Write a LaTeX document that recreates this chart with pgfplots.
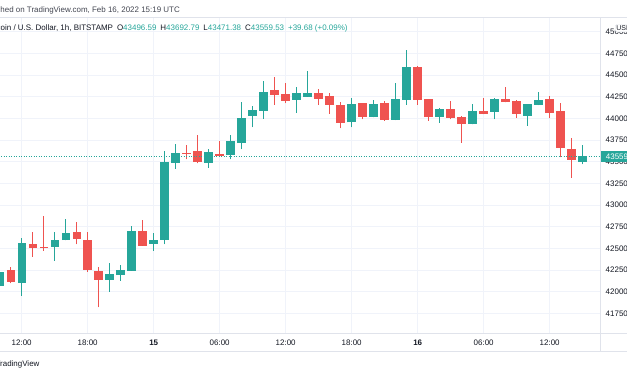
\documentclass[border=0pt]{standalone}
\usepackage{pgfplots}
\pgfplotsset{compat=1.18}
\usepackage{pgfplotstable}
\usepackage{fontspec}
\setmainfont{Liberation Sans}
\definecolor{upc}{HTML}{26A69A}
\definecolor{downc}{HTML}{EF5350}
\definecolor{gridc}{HTML}{F0F3FA}
\definecolor{borderc}{HTML}{E0E3EB}
\definecolor{textc}{HTML}{131722}
\definecolor{greytext}{HTML}{434651}

\pgfplotstableread{
t o h l c
-2 42065 42260 42040 42230
-1 42250 42288 42097 42115
0 42103 42616 41950 42558
1 42550 42692 42403 42507
2 42520 42873 42473 42505
3 42515 42685 42357 42596
4 42593 42839 42590 42677
5 42685 42804 42547 42608
6 42593 42685 42230 42250
7 42235 42288 41820 42135
8 42135 42334 42000 42204
9 42189 42304 42127 42250
10 42242 42761 42240 42700
11 42700 42827 42530 42530
12 42554 42681 42470 42596
13 42596 43623 42547 43493
14 43488 43704 43419 43604
15 43604 43693 43527 43590
16 43623 43808 43481 43493
17 43488 43643 43431 43608
18 43592 43739 43560 43566
19 43577 43808 43527 43735
20 43712 44192 43643 44000
21 44031 44142 43897 44093
22 44085 44428 43996 44301
23 44324 44481 44154 44273
24 44278 44405 44174 44200
25 44212 44365 44065 44289
26 44250 44550 44248 44296
27 44296 44335 44154 44227
28 44254 44289 44050 44154
29 44154 44192 43885 43950
30 43954 44231 43897 44166
31 44174 44180 43989 44019
32 44012 44212 44010 44166
33 44181 44204 43969 43981
34 43981 44412 43979 44220
35 44212 44789 44154 44589
36 44596 44600 44154 44212
37 44223 44225 43969 44012
38 44012 44123 43950 44104
39 44108 44200 43989 44008
40 44019 44021 43719 43931
41 43931 44162 43929 44088
42 44088 44231 44048 44050
43 44077 44230 43989 44227
44 44227 44365 44183 44185
45 44196 44208 44008 44050
46 44027 44168 43915 44166
47 44154 44308 44152 44212
48 44223 44262 44000 44065
49 44085 44181 43550 43661
50 43646 43770 43315 43519
51 43496.59 43692.79 43471.38 43559.53
}\candles

\pgfplotsset{
  candle/.style={forget plot, only marks, mark size=0pt,
    mark options={draw=none, fill=none},
    error bars/.cd, y dir=plus, y explicit, error mark=none,
    error bar style={#1}},
}

\begin{document}
\begin{tikzpicture}[x=1bp,y=1bp]
\useasboundingbox (0,0) rectangle (627,376);
\begin{axis}[
  at={(0bp,42.7bp)}, anchor=south west,
  width=600.7bp, height=316bp, scale only axis,
  xmin=-1.973, xmax=52.64, ymin=41519, ymax=45165,
  axis line style={draw=none},
  major tick length=0pt,
  scaled x ticks=false, scaled y ticks=false,
  xtick={0,6,12,18,24,30,36,42,48},
  xticklabels={12:00,18:00,\textbf{15},06:00,12:00,18:00,\textbf{16},06:00,12:00},
  ytick={41750,42000,42250,42500,42750,43000,43250,43500,43750,44000,44250,44500,44750,45000},
  yticklabels={41750,42000,42250,42500,42750,43000,43250,43500,43750,44000,44250,44500,44750,45000},
  yticklabel pos=right,
  grid=major, major grid style={color=gridc, line width=0.8bp},
  ticklabel style={font=\fontsize{8}{9.6}\selectfont, text=textc},
  xticklabel style={anchor=base, yshift=-12.4bp},
  yticklabel style={anchor=west, xshift=1.5bp},
  clip=true,
]
% wicks
\addplot[candle={line width=0.9bp, color=upc}]
  table[x=t, y expr={\thisrow{c}>=\thisrow{o} ? \thisrow{l} : nan},
        y error plus expr={\thisrow{h}-\thisrow{l}}] {\candles};
\addplot[candle={line width=0.9bp, color=downc}]
  table[x=t, y expr={\thisrow{c}<\thisrow{o} ? \thisrow{l} : nan},
        y error plus expr={\thisrow{h}-\thisrow{l}}] {\candles};
% bodies
\addplot[candle={line width=8.4bp, color=upc}]
  table[x=t, y expr={\thisrow{c}>=\thisrow{o} ? \thisrow{o} : nan},
        y error plus expr={\thisrow{c}-\thisrow{o}}] {\candles};
\addplot[candle={line width=8.4bp, color=downc}]
  table[x=t, y expr={\thisrow{c}<\thisrow{o} ? \thisrow{c} : nan},
        y error plus expr={\thisrow{o}-\thisrow{c}}] {\candles};
% last price line
\addplot[forget plot, color=upc, line width=0.8bp, dash pattern=on 1bp off 1.5bp]
  coordinates {(-3,43559.53) (60,43559.53)};
\coordinate (lastp) at (axis cs:52.64,43559.53);
\end{axis}
% pane borders
\draw[borderc, line width=0.8bp] (0,358.7) -- (627,358.7);
\draw[borderc, line width=0.8bp] (0,42.7) -- (627,42.7);
\draw[borderc, line width=0.8bp] (0,24.3) -- (627,24.3);
\draw[borderc, line width=0.8bp] (600.7,358.7) -- (600.7,24.3);
% last price tag
\node[fill=upc, text=white, anchor=west, inner xsep=5bp, inner ysep=0pt,
  minimum height=10.5bp, minimum width=40bp, align=left,
  font=\fontsize{8}{9.6}\selectfont] at (lastp) {43559.53};
% currency button
\node[draw=borderc, fill=white, rounded corners=1.5bp, inner sep=1.2bp,
  anchor=west, text=textc, font=\fontsize{7}{8}\selectfont] at (615,347.8) {USD};
% header texts
\node[anchor=base west, inner sep=0pt, text=greytext,
  font=\fontsize{8}{9.6}\selectfont] at (-21.5,363.3)
  {Published on TradingView.com, Feb 16, 2022 15:19 UTC};
\node[anchor=base west, inner sep=0pt, text=textc,
  font=\fontsize{8}{9.6}\selectfont] at (-12.8,345.3)
  {Bitcoin / U.S. Dollar, 1h, BITSTAMP\hspace{4bp}O\textcolor{upc}{43496.59}\hspace{4bp}H\textcolor{upc}{43692.79}\hspace{4bp}L\textcolor{upc}{43471.38}\hspace{4bp}C\textcolor{upc}{43559.53}\hspace{4bp}\textcolor{upc}{+39.68 (+0.09\%)}};
% footer
\node[anchor=base west, inner sep=0pt, text=textc,
  font=\fontsize{8}{9.6}\selectfont] at (-4.6,9.7) {TradingView};
\end{tikzpicture}
\end{document}
